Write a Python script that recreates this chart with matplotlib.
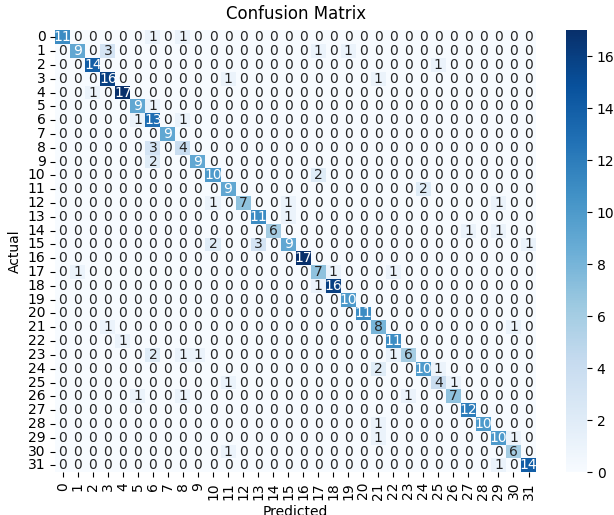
import numpy as np
import matplotlib
matplotlib.use('Agg')
import matplotlib.pyplot as plt
import seaborn as sns

labels = [str(i) for i in range(32)]

# confusion matrix rows (actual) x columns (predicted)
cm = np.array([
    [11, 0, 0, 0, 0, 0, 1, 0, 1, 0,  0, 0, 0, 0, 0, 0, 0, 0, 0, 0,  0, 0, 0, 0, 0, 0, 0, 0, 0, 0,  0, 0],
    [0, 9, 0, 3, 0, 0, 0, 0, 0, 0,  0, 0, 0, 0, 0, 0, 0, 1, 0, 1,  0, 0, 0, 0, 0, 0, 0, 0, 0, 0,  0, 0],
    [0, 0, 14, 0, 0, 0, 0, 0, 0, 0,  0, 0, 0, 0, 0, 0, 0, 0, 0, 0,  0, 0, 0, 0, 0, 1, 0, 0, 0, 0,  0, 0],
    [0, 0, 0, 16, 0, 0, 0, 0, 0, 0,  0, 1, 0, 0, 0, 0, 0, 0, 0, 0,  0, 1, 0, 0, 0, 0, 0, 0, 0, 0,  0, 0],
    [0, 0, 1, 0, 17, 0, 0, 0, 0, 0,  0, 0, 0, 0, 0, 0, 0, 0, 0, 0,  0, 0, 0, 0, 0, 0, 0, 0, 0, 0,  0, 0],
    [0, 0, 0, 0, 0, 9, 1, 0, 0, 0,  0, 0, 0, 0, 0, 0, 0, 0, 0, 0,  0, 0, 0, 0, 0, 0, 0, 0, 0, 0,  0, 0],
    [0, 0, 0, 0, 0, 1, 13, 0, 1, 0,  0, 0, 0, 0, 0, 0, 0, 0, 0, 0,  0, 0, 0, 0, 0, 0, 0, 0, 0, 0,  0, 0],
    [0, 0, 0, 0, 0, 0, 0, 9, 0, 0,  0, 0, 0, 0, 0, 0, 0, 0, 0, 0,  0, 0, 0, 0, 0, 0, 0, 0, 0, 0,  0, 0],
    [0, 0, 0, 0, 0, 0, 3, 0, 4, 0,  0, 0, 0, 0, 0, 0, 0, 0, 0, 0,  0, 0, 0, 0, 0, 0, 0, 0, 0, 0,  0, 0],
    [0, 0, 0, 0, 0, 0, 2, 0, 0, 9,  0, 0, 0, 0, 0, 0, 0, 0, 0, 0,  0, 0, 0, 0, 0, 0, 0, 0, 0, 0,  0, 0],
    [0, 0, 0, 0, 0, 0, 0, 0, 0, 0,  10, 0, 0, 0, 0, 0, 0, 2, 0, 0,  0, 0, 0, 0, 0, 0, 0, 0, 0, 0,  0, 0],
    [0, 0, 0, 0, 0, 0, 0, 0, 0, 0,  0, 9, 0, 0, 0, 0, 0, 0, 0, 0,  0, 0, 0, 0, 2, 0, 0, 0, 0, 0,  0, 0],
    [0, 0, 0, 0, 0, 0, 0, 0, 0, 0,  1, 0, 7, 0, 0, 1, 0, 0, 0, 0,  0, 0, 0, 0, 0, 0, 0, 0, 0, 1,  0, 0],
    [0, 0, 0, 0, 0, 0, 0, 0, 0, 0,  0, 0, 0, 11, 0, 1, 0, 0, 0, 0,  0, 0, 0, 0, 0, 0, 0, 0, 0, 0,  0, 0],
    [0, 0, 0, 0, 0, 0, 0, 0, 0, 0,  0, 0, 0, 0, 6, 0, 0, 0, 0, 0,  0, 0, 0, 0, 0, 0, 0, 1, 0, 1,  0, 0],
    [0, 0, 0, 0, 0, 0, 0, 0, 0, 0,  2, 0, 0, 3, 0, 9, 0, 0, 0, 0,  0, 0, 0, 0, 0, 0, 0, 0, 0, 0,  0, 1],
    [0, 0, 0, 0, 0, 0, 0, 0, 0, 0,  0, 0, 0, 0, 0, 0, 17, 0, 0, 0,  0, 0, 0, 0, 0, 0, 0, 0, 0, 0,  0, 0],
    [0, 1, 0, 0, 0, 0, 0, 0, 0, 0,  0, 0, 0, 0, 0, 0, 0, 7, 1, 0,  0, 0, 1, 0, 0, 0, 0, 0, 0, 0,  0, 0],
    [0, 0, 0, 0, 0, 0, 0, 0, 0, 0,  0, 0, 0, 0, 0, 0, 0, 1, 16, 0,  0, 0, 0, 0, 0, 0, 0, 0, 0, 0,  0, 0],
    [0, 0, 0, 0, 0, 0, 0, 0, 0, 0,  0, 0, 0, 0, 0, 0, 0, 0, 0, 10,  0, 0, 0, 0, 0, 0, 0, 0, 0, 0,  0, 0],
    [0, 0, 0, 0, 0, 0, 0, 0, 0, 0,  0, 0, 0, 0, 0, 0, 0, 0, 0, 0,  11, 0, 0, 0, 0, 0, 0, 0, 0, 0,  0, 0],
    [0, 0, 0, 1, 0, 0, 0, 0, 0, 0,  0, 0, 0, 0, 0, 0, 0, 0, 0, 0,  0, 8, 0, 0, 0, 0, 0, 0, 0, 0,  1, 0],
    [0, 0, 0, 0, 1, 0, 0, 0, 0, 0,  0, 0, 0, 0, 0, 0, 0, 0, 0, 0,  0, 0, 11, 0, 0, 0, 0, 0, 0, 0,  0, 0],
    [0, 0, 0, 0, 0, 0, 2, 0, 1, 1,  0, 0, 0, 0, 0, 0, 0, 0, 0, 0,  0, 0, 1, 6, 0, 0, 0, 0, 0, 0,  0, 0],
    [0, 0, 0, 0, 0, 0, 0, 0, 0, 0,  0, 0, 0, 0, 0, 0, 0, 0, 0, 0,  0, 2, 0, 0, 10, 1, 0, 0, 0, 0,  0, 0],
    [0, 0, 0, 0, 0, 0, 0, 0, 0, 0,  0, 1, 0, 0, 0, 0, 0, 0, 0, 0,  0, 0, 0, 0, 0, 4, 1, 0, 0, 0,  0, 0],
    [0, 0, 0, 0, 0, 1, 0, 0, 1, 0,  0, 0, 0, 0, 0, 0, 0, 0, 0, 0,  0, 0, 0, 1, 0, 0, 7, 0, 0, 0,  0, 0],
    [0, 0, 0, 0, 0, 0, 0, 0, 0, 0,  0, 0, 0, 0, 0, 0, 0, 0, 0, 0,  0, 0, 0, 0, 0, 0, 0, 12, 0, 0,  0, 0],
    [0, 0, 0, 0, 0, 0, 0, 0, 0, 0,  0, 0, 0, 0, 0, 0, 0, 0, 0, 0,  0, 1, 0, 0, 0, 0, 0, 0, 10, 0,  0, 0],
    [0, 0, 0, 0, 0, 0, 0, 0, 0, 0,  0, 0, 0, 0, 0, 0, 0, 0, 0, 0,  0, 1, 0, 0, 0, 0, 0, 0, 0, 10,  1, 0],
    [0, 0, 0, 0, 0, 0, 0, 0, 0, 0,  0, 1, 0, 0, 0, 0, 0, 0, 0, 0,  0, 0, 0, 0, 0, 0, 0, 0, 0, 0,  6, 0],
    [0, 0, 0, 0, 0, 0, 0, 0, 0, 0,  0, 0, 0, 0, 0, 0, 0, 0, 0, 0,  0, 0, 0, 0, 0, 0, 0, 0, 0, 1,  0, 14],
])

fig = plt.figure(figsize=(6.14, 5.15), dpi=100)
ax = fig.add_axes([0.090, 0.083, 0.783, 0.858])
cax = fig.add_axes([0.922, 0.083, 0.034, 0.858])

sns.heatmap(cm, annot=True, fmt='d', cmap='Blues', ax=ax, cbar_ax=cax,
            xticklabels=labels, yticklabels=labels, annot_kws={'fontsize': 10})
ax.set_title('Confusion Matrix', fontsize=12, pad=8)
ax.set_xlabel('Predicted')
ax.set_ylabel('Actual')
ax.tick_params(axis='x', labelrotation=90)
ax.tick_params(axis='y', labelrotation=0)
cax.set_yticks(range(0, 17, 2))

fig.savefig('out.png', dpi=100)
